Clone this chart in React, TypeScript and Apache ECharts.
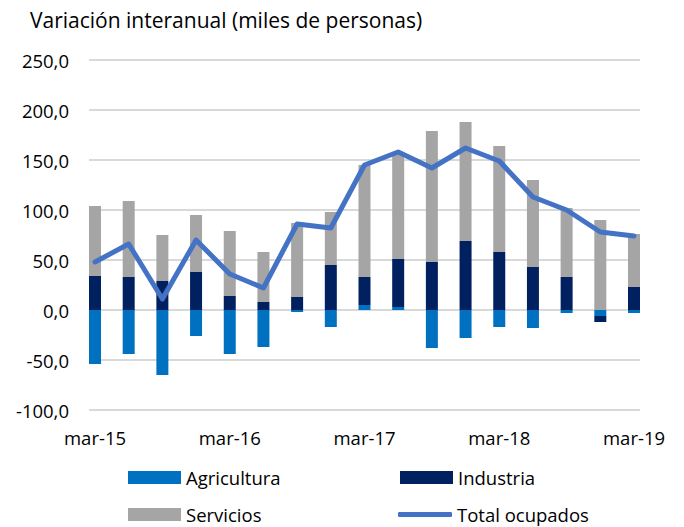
import React, { useEffect, useRef } from 'react';
import * as echarts from 'echarts';

const categories = [
  'mar-15', 'jun-15', 'sep-15', 'dic-15',
  'mar-16', 'jun-16', 'sep-16', 'dic-16',
  'mar-17', 'jun-17', 'sep-17', 'dic-17',
  'mar-18', 'jun-18', 'sep-18', 'dic-18',
  'mar-19',
];

const agricultura = [-54, -44, -65, -26, -44, -37, -2, -17, 5, 3, -38, -28, -17, -18, -3, -6, -3];
const industria = [34, 33, 29, 38, 14, 8, 13, 45, 28, 48, 48, 69, 58, 43, 33, -6, 23];
const servicios = [70, 76, 46, 57, 65, 50, 74, 53, 112, 106, 131, 119, 106, 87, 69, 90, 53];
const totalOcupados = [48, 66, 11, 70, 36, 22, 86, 82, 145, 158, 142, 162, 149, 113, 100, 78, 74];

const yTicks = { min: -100, max: 250, interval: 50 };

const FONT = 'Open Sans';

export default function App() {
  const ref = useRef<HTMLDivElement>(null);

  useEffect(() => {
    if (!ref.current) return;
    document.body.style.margin = '0';
    const chart = echarts.init(ref.current, null, { renderer: 'svg' });
    const legendText = { fontFamily: FONT, fontSize: 18.5, color: '#000' };
    chart.setOption({
      animation: false,
      textStyle: { fontFamily: FONT },
      title: {
        text: 'Variación interanual (miles de personas)',
        left: 25,
        top: 4,
        textStyle: { fontFamily: FONT, fontSize: 21, fontWeight: 'normal', color: '#000' },
      },
      grid: [
        { left: 89, right: 44, top: 60, height: 350 },
        { left: 95, right: 50, top: 60, height: 350 },
      ],
      xAxis: [
        { gridIndex: 0, type: 'category', data: categories, show: false },
        {
          gridIndex: 1,
          type: 'category',
          data: categories,
          boundaryGap: false,
          axisLine: { show: false },
          axisTick: { show: false },
          splitLine: { show: false },
          axisLabel: { interval: 3, margin: 18, fontSize: 18.5, color: '#000', fontFamily: FONT },
        },
      ],
      yAxis: [
        {
          gridIndex: 0,
          type: 'value',
          ...yTicks,
          axisLine: { show: false },
          axisTick: { show: false },
          splitLine: { lineStyle: { color: '#D9D9D9', width: 2 } },
          axisLabel: {
            margin: 20,
            fontSize: 18.5,
            color: '#000',
            fontFamily: FONT,
            formatter: (v: number) => v.toFixed(1).replace('.', ','),
          },
        },
        { gridIndex: 1, type: 'value', ...yTicks, show: false, splitLine: { show: false } },
      ],
      legend: [
        { data: ['Agricultura'], left: 123, top: 463, itemWidth: 53, itemHeight: 13, icon: 'rect', textStyle: legendText },
        { data: ['Industria'], left: 395, top: 463, itemWidth: 53, itemHeight: 13, icon: 'rect', textStyle: legendText },
        { data: ['Servicios'], left: 123, top: 500, itemWidth: 53, itemHeight: 13, icon: 'rect', textStyle: legendText },
        { data: ['Total ocupados'], left: 393, top: 500, itemWidth: 54, itemHeight: 5, icon: 'roundRect', textStyle: legendText },
      ],
      series: [
        {
          name: 'Agricultura', type: 'bar', stack: 'total', xAxisIndex: 1, yAxisIndex: 1,
          data: agricultura, barWidth: 12, clip: false, itemStyle: { color: '#0070C0' },
        },
        {
          name: 'Industria', type: 'bar', stack: 'total', xAxisIndex: 1, yAxisIndex: 1,
          data: industria, barWidth: 12, clip: false, itemStyle: { color: '#002060' },
        },
        {
          name: 'Servicios', type: 'bar', stack: 'total', xAxisIndex: 1, yAxisIndex: 1,
          data: servicios, barWidth: 12, clip: false, itemStyle: { color: '#A5A5A5' },
        },
        {
          name: 'Total ocupados', type: 'line', xAxisIndex: 1, yAxisIndex: 1,
          data: totalOcupados, showSymbol: false, symbol: 'none', clip: false, z: 5,
          lineStyle: { color: '#4472C4', width: 5, join: 'round', cap: 'round' },
          itemStyle: { color: '#4472C4' },
        },
      ],
    });
    return () => chart.dispose();
  }, []);

  return <div ref={ref} style={{ width: 684, height: 527 }} />;
}
